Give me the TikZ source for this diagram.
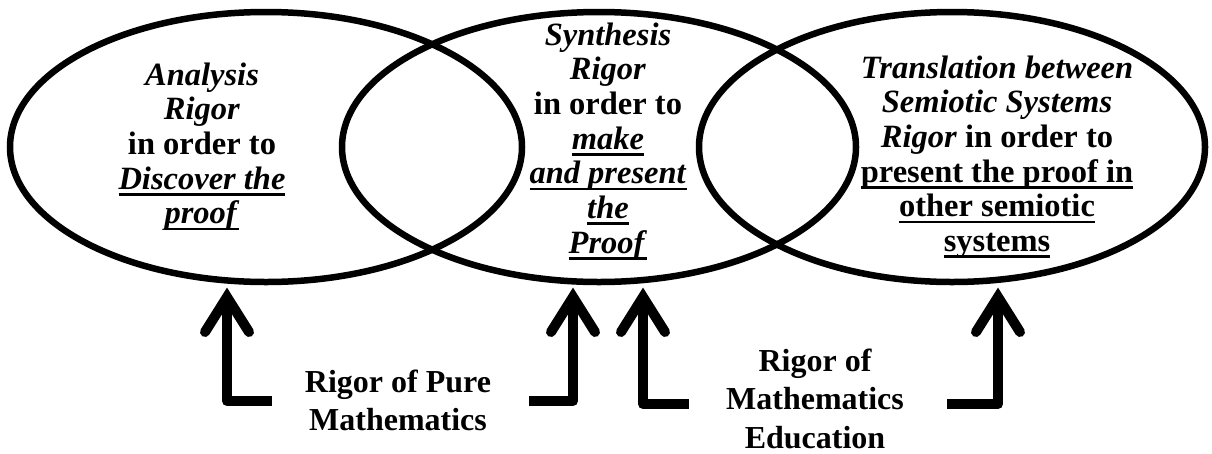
\documentclass[tikz,border=0pt]{standalone}
\usepackage{fontspec}
\setmainfont{Liberation Serif}
\usetikzlibrary{shapes.geometric}
\newcommand\ulx[1]{\sbox0{#1}\rlap{\rule[-6.3pt]{\wd0}{2.6pt}}\usebox0}
\begin{document}
\begin{tikzpicture}[x=1pt,y=-1pt,
  venn/.style={draw, ellipse, line width=6.5pt, inner sep=0pt, outer sep=0pt},
  txt/.style={align=center, inner sep=0pt, anchor=north, font=\fontsize{32.5}{34.7}\selectfont\bfseries},
  lbl/.style={align=center, inner sep=0pt, anchor=north, font=\fontsize{32}{38.5}\selectfont\bfseries},
  shaft/.style={line width=10pt, line join=round},
  wing/.style={line width=10pt, line cap=round, line join=miter}]
\useasboundingbox[fill=white] (0,0) rectangle (1212,453);
% ellipses
\node[venn, minimum width=512pt, minimum height=270pt] (L) at (266,147) {};
\node[venn, minimum width=514pt, minimum height=270pt] (M) at (599,147) {};
\node[venn, minimum width=506pt, minimum height=270pt] (R) at (952,147) {};
% texts in ellipses
\node[txt] (Ltxt) at (202,60.7) {\strut\textit{Analysis}\\ \textit{Rigor}\\ in order to\\ \ulx{\textit{Discover the}}\\ \ulx{\textit{proof}}};
\node[txt] (Mtxt) at (608,20.7) {\strut\textit{Synthesis}\\ \textit{Rigor}\\ in order to\\ \ulx{\textit{make}}\\ \ulx{\textit{and present}}\\ \ulx{\textit{the}}\\ \ulx{\textit{Proof}}};
\node[txt] (Rtxt) at (997,53.7) {\strut\textit{Translation between}\\ \textit{Semiotic Systems}\\ \textit{Rigor} in order to\\ \ulx{present the proof in}\\ \ulx{other semiotic}\\ \ulx{systems}};
% labels
\node[lbl] (pm) at (398,365) {\strut Rigor of Pure\\ Mathematics};
\node[lbl] (me) at (815,344) {\strut Rigor of\\ Mathematics\\ Education};
% arrow coordinates
\coordinate (t1) at (227,297); \coordinate (b1) at (227,401); \coordinate (e1) at (272,401);
\coordinate (t2) at (573,297); \coordinate (b2) at (573,401); \coordinate (e2) at (529,401);
\coordinate (t3) at (643,297); \coordinate (b3) at (643,404); \coordinate (e3) at (689,404);
\coordinate (t4) at (998,297); \coordinate (b4) at (998,404); \coordinate (e4) at (947,404);
% arrows
\foreach \i in {1,2,3,4}{
  \draw[wing] ([xshift=-22pt,yshift=-35pt]t\i) -- (t\i) -- ([xshift=22pt,yshift=-35pt]t\i);
  \draw[shaft] (t\i) -- (b\i) -- (e\i);
}
\end{tikzpicture}
\end{document}
